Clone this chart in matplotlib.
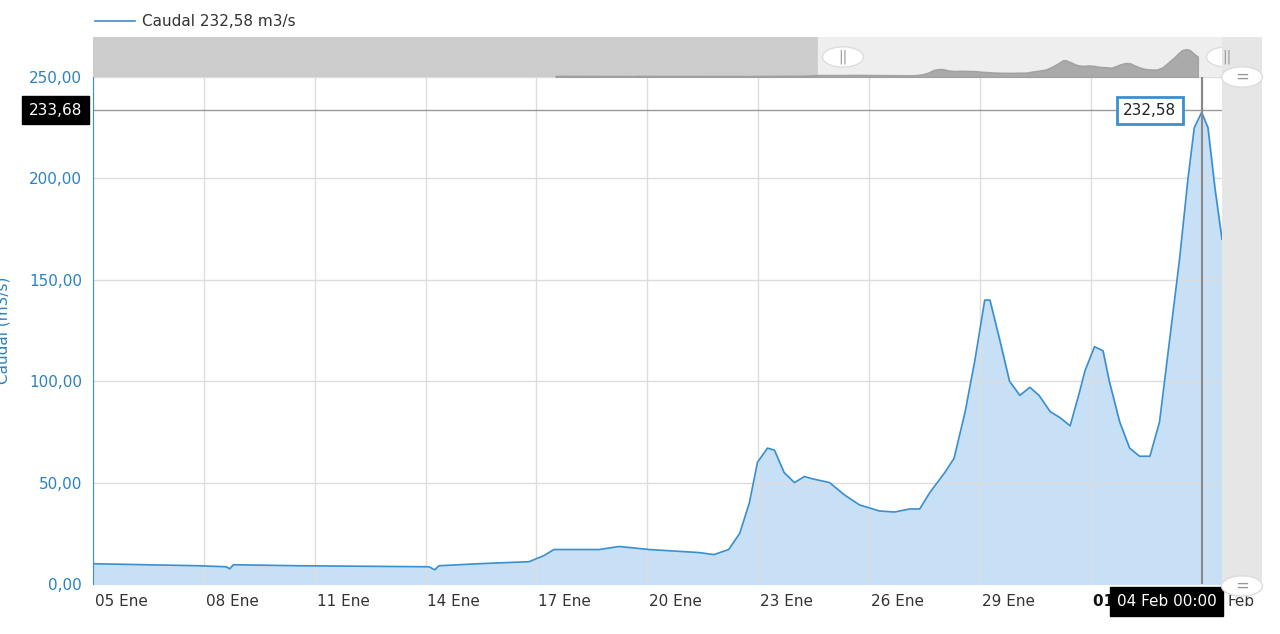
import matplotlib.pyplot as plt
from matplotlib.patches import Rectangle

# days since 05 Ene 00:00
days = [0, 2.86, 3.6, 3.7, 3.8, 5.57, 9.09, 9.25, 9.36, 10.44, 11.8, 12.2, 12.47, 13.7,
        14.24, 15.05, 16.4, 16.8, 17.2, 17.5, 17.76, 17.98, 18.25, 18.44, 18.7, 18.98,
        19.25, 19.44, 19.93, 20.33, 20.74, 21.28, 21.69, 22.1, 22.37, 22.64, 23.05, 23.3,
        23.6, 23.86, 24.13, 24.27, 24.54, 24.8, 25.08, 25.35, 25.6, 25.9, 26.17, 26.44,
        26.7, 26.84, 27.1, 27.33, 27.5, 27.78, 28.05, 28.32, 28.6, 28.86, 29.13, 29.4,
        29.63, 29.8, 30.0, 30.17, 30.36, 30.55]
caudal = [10, 9, 8.5, 7.5, 9.5, 9, 8.5, 7, 9, 10, 11, 14, 17, 17,
          18.5, 17, 15.5, 14.5, 17, 25, 40, 60, 67, 66, 55, 50,
          53, 52, 50, 44, 39, 36, 35.5, 37, 37, 45, 55, 62,
          85, 110, 140, 140, 120, 100, 93, 97, 93, 85, 82, 78,
          95, 105, 117, 115, 100, 80, 67, 63, 63, 80, 120, 160,
          200, 225, 232.6, 225, 195, 170]
tick_days = [0, 3, 6, 9, 12, 15, 18, 21, 24, 27, 30]
tick_labels = ["05 Ene", "08 Ene", "11 Ene", "14 Ene", "17 Ene", "20 Ene", "23 Ene",
               "26 Ene", "29 Ene", "01 Feb", "04 Feb"]
yticks = [0, 50, 100, 150, 200, 250]

W, H = 1280, 634
fig = plt.figure(figsize=(12.8, 6.34), dpi=100)
blue = "#3a8fd0"
lab = "#2b82c4"

def box(x0, y0, x1, y1):
    return [x0 / W, 1 - y1 / H, (x1 - x0) / W, (y1 - y0) / H]

ax = fig.add_axes(box(93, 77, 1222, 584))
ax.fill_between(days, caudal, color="#c8e0f6")
ax.plot(days, caudal, color=blue, lw=1.2)
ax.set_xlim(0, 30.55)
ax.set_ylim(0, 250)
ax.set_yticks(yticks)
ax.set_yticklabels([f"{v},00" for v in yticks], color=lab, fontsize=11)
ax.set_xticks(tick_days)
ax.set_xticklabels([])
for d, t in zip(tick_days[:-2], tick_labels[:-2]):
    ax.text(d + 0.05, -5, t, ha="left", va="top", fontsize=11, color="#333333")
ax.text(27.05, -5, tick_labels[-2], ha="left", va="top", fontsize=11, color="#111111",
        fontweight="bold", zorder=1)
ax.text(30.55 + 0.15, -5, "Feb", ha="left", va="top", fontsize=11, color="#333333", clip_on=False)
ax.grid(True, color="#dddddd", lw=1)
ax.tick_params(length=0, pad=8)
for s in ["top", "right", "bottom"]:
    ax.spines[s].set_visible(False)
ax.spines["left"].set_color(blue)
ax.set_ylabel("Caudal (m3/s)", color=lab, fontsize=11, labelpad=62)
ax.yaxis.set_label_coords(-0.073, 0.5)

# crosshair and tooltips
ax.axhline(233.68, color="#999999", lw=1)
ax.axvline(30.0, color="#888888", lw=1.5)
ax.text(-0.3, 233.68, "233,68", ha="right", va="center", color="white", fontsize=11,
        bbox=dict(boxstyle="square,pad=0.45", fc="black", ec="black"), clip_on=False)
ax.text(28.6, 233.5, "232,58", ha="center", va="center", color="#222222", fontsize=11,
        bbox=dict(boxstyle="square,pad=0.4", fc="white", ec=blue, lw=2))
ax.text(29.05, -5, "04 Feb 00:00", ha="center", va="top", color="white", fontsize=11, zorder=5,
        bbox=dict(boxstyle="square,pad=0.45", fc="black", ec="black"), clip_on=False)

# navigator
nav = fig.add_axes(box(93, 37, 1262, 77))
nav.add_patch(Rectangle((0, 0), 0.62, 1, color="#cccccc", transform=nav.transAxes))
nav.add_patch(Rectangle((0.62, 0), 0.38, 1, color="#eeeeee", transform=nav.transAxes))
nav.fill_between(days, [v * 0.06 for v in caudal], color="#999999", alpha=0.8)
nav.set_xlim(-22, 33.6)
nav.set_ylim(0, 20)
nav.axis("off")
for xp in (843, 1227):
    fig.patches.append(plt.Circle((xp / W, 1 - 57 / H), 0.016, transform=fig.transFigure,
                                  fc="white", ec="#dddddd"))
    fig.text(xp / W, 1 - 57 / H, "||", ha="center", va="center", color="#999999", fontsize=10)

# right scrollbar
fig.patches.append(Rectangle((1222 / W, 1 - 584 / H), 40 / W, 547 / H, transform=fig.transFigure,
                             fc="#e6e6e6", ec="none"))
for yp in (77, 586):
    fig.patches.append(plt.Circle((1242 / W, 1 - yp / H), 0.016, transform=fig.transFigure,
                                  fc="white", ec="#dddddd"))
    fig.text(1242 / W, 1 - yp / H, "=", ha="center", va="center", color="#999999", fontsize=12)

# legend
fig.lines.append(plt.Line2D([95 / W, 135 / W], [1 - 21 / H] * 2, color=blue, lw=1.2,
                            transform=fig.transFigure))
fig.text(142 / W, 1 - 21 / H, "Caudal 232,58 m3/s", va="center", fontsize=11, color="#333333")

fig.savefig("out.png", dpi=100, facecolor="white")
